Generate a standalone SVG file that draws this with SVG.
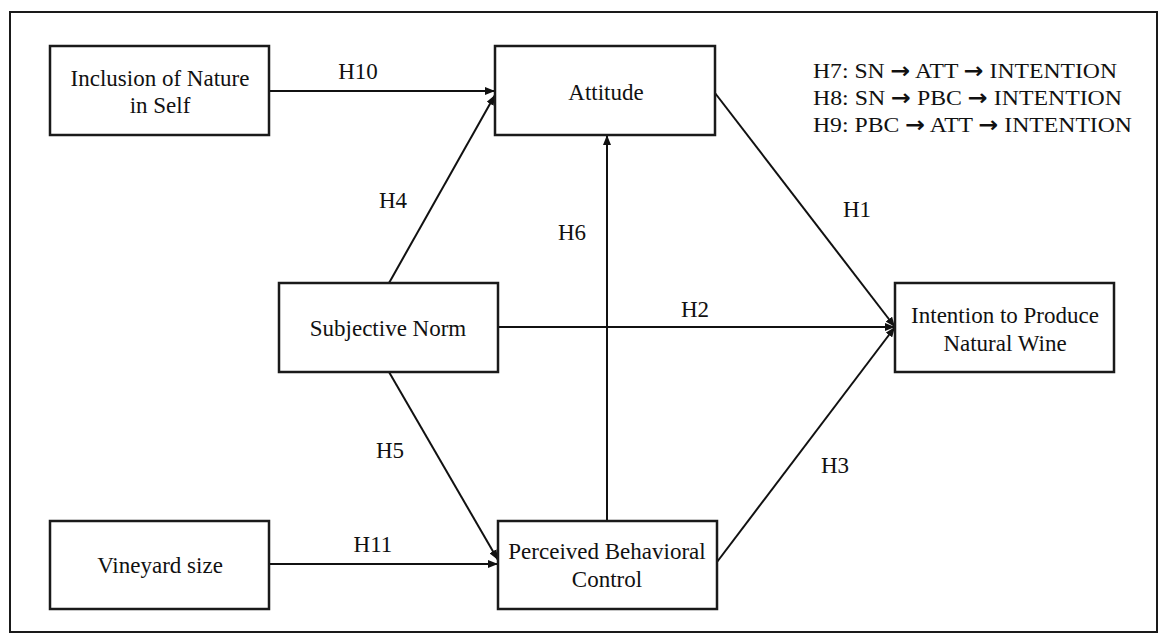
<svg xmlns="http://www.w3.org/2000/svg" width="1167" height="642" viewBox="0 0 1167 642">
  <defs>
    <style>
      .box { fill: #ffffff; stroke: #1a1a1a; stroke-width: 2.5; }
      .lbl { font-family: "Liberation Serif", "Times New Roman", serif; font-size: 23px; fill: #111111; text-anchor: middle; }
      .leg { font-family: "Liberation Serif", "DejaVu Serif", serif; font-size: 22px; fill: #111111; }
      .ar { font-family: "DejaVu Sans", sans-serif; font-weight: bold; }
      .edge { stroke: #111111; stroke-width: 2; fill: none; }
    </style>
    <marker id="arr" markerUnits="userSpaceOnUse" markerWidth="10" markerHeight="8" refX="10" refY="4" orient="auto">
      <path d="M0,0 L10,4 L0,8 z" fill="#111111"/>
    </marker>
  </defs>
  <rect width="1167" height="642" fill="#ffffff"/>
  <rect x="10" y="12" width="1147" height="620" fill="none" stroke="#1a1a1a" stroke-width="2"/>

  <g id="connectors">
    <line class="edge" x1="269" y1="91" x2="495" y2="91" marker-end="url(#arr)"/>
    <line class="edge" x1="389" y1="283" x2="495" y2="95" marker-end="url(#arr)"/>
    <line class="edge" x1="607" y1="521" x2="607" y2="135" marker-end="url(#arr)"/>
    <line class="edge" x1="715" y1="93" x2="895" y2="327" marker-end="url(#arr)"/>
    <line class="edge" x1="498" y1="327" x2="895" y2="327" marker-end="url(#arr)"/>
    <line class="edge" x1="717" y1="562" x2="895" y2="327" marker-end="url(#arr)"/>
    <line class="edge" x1="389" y1="372" x2="498" y2="560" marker-end="url(#arr)"/>
    <line class="edge" x1="269" y1="564" x2="498" y2="564" marker-end="url(#arr)"/>
    <text class="lbl" x="358" y="79">H10</text>
    <text class="lbl" x="393" y="208">H4</text>
    <text class="lbl" x="572" y="240">H6</text>
    <text class="lbl" x="857" y="217">H1</text>
    <text class="lbl" x="695" y="317">H2</text>
    <text class="lbl" x="390" y="458">H5</text>
    <text class="lbl" x="835" y="473">H3</text>
    <text class="lbl" x="373" y="552">H11</text>
  </g>

  <g id="node-ins">
    <rect class="box" x="50" y="46" width="219" height="89"/>
    <text class="lbl" x="160" y="86">Inclusion of Nature</text>
    <text class="lbl" x="160" y="113">in Self</text>
  </g>
  <g id="node-attitude">
    <rect class="box" x="495" y="46" width="220" height="89"/>
    <text class="lbl" x="606" y="100">Attitude</text>
  </g>
  <g id="node-sn">
    <rect class="box" x="279" y="283" width="219" height="89"/>
    <text class="lbl" x="388" y="336">Subjective Norm</text>
  </g>
  <g id="node-intention">
    <rect class="box" x="895" y="283" width="219" height="89"/>
    <text class="lbl" x="1005" y="323">Intention to Produce</text>
    <text class="lbl" x="1005" y="351">Natural Wine</text>
  </g>
  <g id="node-vineyard">
    <rect class="box" x="50" y="521" width="219" height="88"/>
    <text class="lbl" x="160" y="573">Vineyard size</text>
  </g>
  <g id="node-pbc">
    <rect class="box" x="498" y="521" width="219" height="88"/>
    <text class="lbl" x="607" y="559">Perceived Behavioral</text>
    <text class="lbl" x="607" y="587">Control</text>
  </g>

  <g id="legend">
    <text class="leg" x="813" y="78" textLength="304" lengthAdjust="spacingAndGlyphs">H7: SN <tspan class="ar">→</tspan> ATT <tspan class="ar">→</tspan> INTENTION</text>
    <text class="leg" x="813" y="105" textLength="309" lengthAdjust="spacingAndGlyphs">H8: SN <tspan class="ar">→</tspan> PBC <tspan class="ar">→</tspan> INTENTION</text>
    <text class="leg" x="813" y="132" textLength="319" lengthAdjust="spacingAndGlyphs">H9: PBC <tspan class="ar">→</tspan> ATT <tspan class="ar">→</tspan> INTENTION</text>
  </g>
</svg>
